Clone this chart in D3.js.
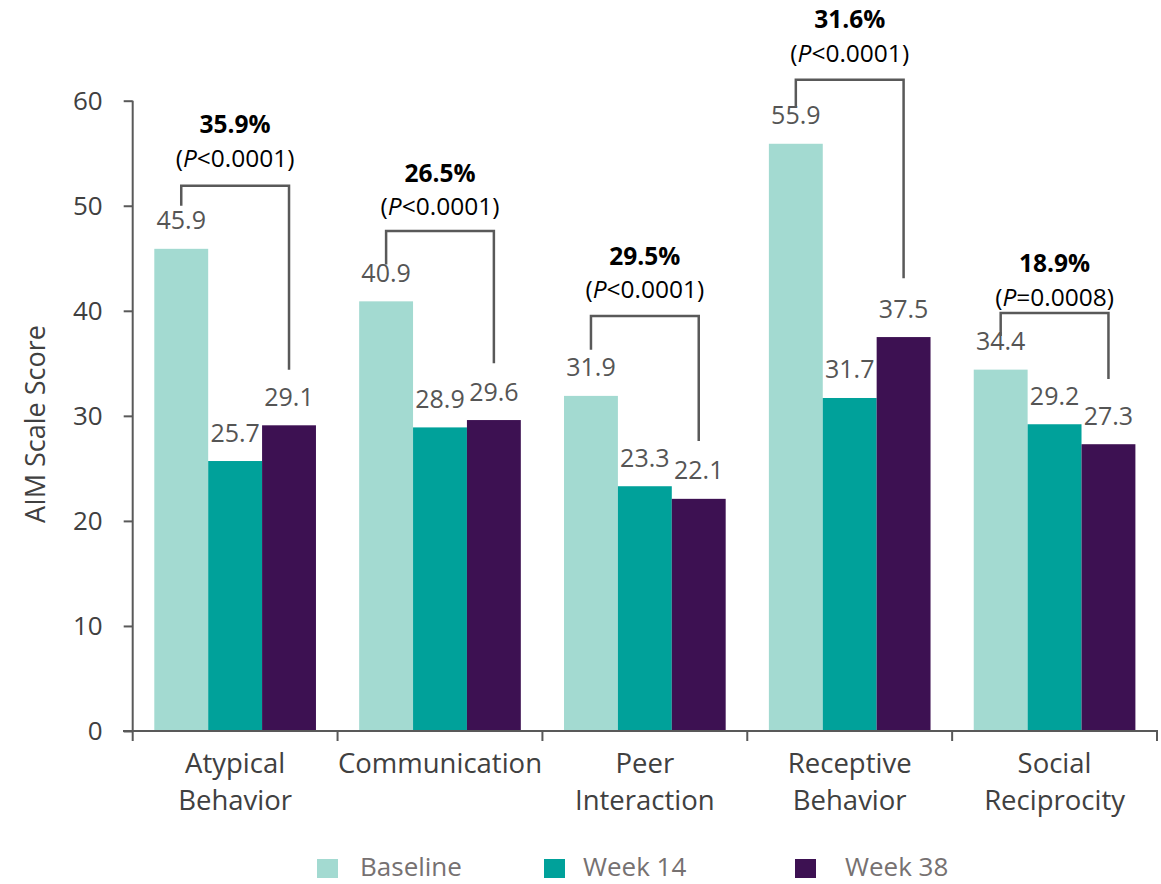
<!DOCTYPE html>
<html>
<head>
<meta charset="utf-8">
<script src="https://cdn.jsdelivr.net/npm/d3@7"></script>
<style>
  html, body { margin: 0; padding: 0; background: #fff; }
  svg { display: block; font-family: "Open Sans", sans-serif; }
</style>
</head>
<body>
<svg id="chart" width="1161" height="884"></svg>
<script>
// ---- Data ----
const categories = [["Atypical", "Behavior"], ["Communication"], ["Peer", "Interaction"], ["Receptive", "Behavior"], ["Social", "Reciprocity"]];
const seriesNames = ["Baseline", "Week 14", "Week 38"];
const baseline = [45.9, 40.9, 31.9, 55.9, 34.4];
const week14 = [25.7, 28.9, 23.3, 31.7, 29.2];
const week38 = [29.1, 29.6, 22.1, 37.5, 27.3];
const yTicks = [0, 10, 20, 30, 40, 50, 60];
const pctChange = ["35.9%", "26.5%", "29.5%", "31.6%", "18.9%"];
const pOperator = ["<", "<", "<", "<", "="];
const pValue = ["0.0001", "0.0001", "0.0001", "0.0001", "0.0008"];
// annotation bracket geometry, in score units
const bracketTop = [51.9, 47.6, 39.5, 62.0, 39.8];
const bracketLeftEnd = [50.0, 44.4, 36.3, 59.4, 37.6];
const bracketRightEnd = [34.4, 35.0, 27.6, 43.1, 33.5];
const annotTextLevel = [53.7, 49.1, 41.2, 63.7, 40.5];

(function () {
// ---- Layout ----
const colors = ["#a3dad1", "#00a19a", "#3d1152"];
const svg = d3.select("#chart");
const mLeft = 132.7, mRight = 1157, mTop = 100.7, mBottom = 731;

const series = [baseline, week14, week38];
const catIdx = d3.range(categories.length);

const x0 = d3.scaleBand().domain(catIdx).range([mLeft, mRight]).padding(0);
const x1 = d3.scaleBand().domain(d3.range(seriesNames.length))
  .range([21.6, x0.bandwidth() - 21.6]).padding(0);
const y = d3.scaleLinear().domain([0, 60]).range([mBottom, mTop]);

const axisColor = "#595959";
const textColor = "#404040";

// ---- Bars ----
const groups = svg.append("g").selectAll("g").data(catIdx).join("g")
  .attr("transform", i => `translate(${x0(i)},0)`);

groups.selectAll("rect")
  .data(i => series.map((s, k) => ({ k, v: s[i] })))
  .join("rect")
  .attr("x", d => x1(d.k))
  .attr("width", x1.bandwidth())
  .attr("y", d => y(d.v))
  .attr("height", d => y(0) - y(d.v))
  .attr("fill", d => colors[d.k]);

// ---- Data labels ----
groups.selectAll("text.val")
  .data(i => series.map((s, k) => ({ k, v: s[i] })))
  .join("text")
  .attr("class", "val")
  .attr("x", d => x1(d.k) + x1.bandwidth() / 2)
  .attr("y", d => y(d.v) - 19.5)
  .attr("text-anchor", "middle")
  .attr("font-size", 25)
  .attr("fill", "#555555")
  .text(d => d.v.toFixed(1));

// ---- Y axis ----
const yAxis = d3.axisLeft(y).tickValues(yTicks).tickSize(9).tickPadding(21);
const gy = svg.append("g").attr("transform", `translate(${mLeft},0)`).call(yAxis);
gy.select(".domain").attr("stroke", axisColor).attr("stroke-width", 2).attr("d", `M0,${mTop}V${mBottom}`);
gy.selectAll(".tick line").attr("stroke", axisColor).attr("stroke-width", 2);
gy.selectAll(".tick text").attr("font-size", 26).attr("fill", textColor)
  .attr("font-family", "Open Sans, sans-serif").attr("dy", "0.34em");

// ---- X axis ----
const gx = svg.append("g").attr("transform", `translate(0,${mBottom})`);
gx.append("line").attr("x1", mLeft - 9.7).attr("x2", mRight + 1).attr("y1", 0).attr("y2", 0)
  .attr("stroke", axisColor).attr("stroke-width", 2);
const boundaries = catIdx.map(i => x0(i)).concat([x0(catIdx.length - 1) + x0.bandwidth()]);
gx.selectAll("line.tk").data(boundaries).join("line").attr("class", "tk")
  .attr("x1", d => d).attr("x2", d => d).attr("y1", 0).attr("y2", 10)
  .attr("stroke", axisColor).attr("stroke-width", 2);

const catLabels = svg.append("g").selectAll("text").data(catIdx).join("text")
  .attr("x", i => x0(i) + x0.bandwidth() / 2)
  .attr("y", 773)
  .attr("text-anchor", "middle")
  .attr("font-size", 27.5)
  .attr("fill", textColor);
catLabels.selectAll("tspan").data(i => categories[i].map(s => ({ s, i }))).join("tspan")
  .attr("x", d => x0(d.i) + x0.bandwidth() / 2)
  .attr("dy", (d, j) => j === 0 ? 0 : 37)
  .text(d => d.s);

// ---- Y title ----
svg.append("text")
  .attr("transform", `translate(45,424) rotate(-90)`)
  .attr("text-anchor", "middle")
  .attr("font-size", 27)
  .attr("fill", textColor)
  .text("AIM Scale Score");

// ---- Annotations (brackets) ----
const ann = svg.append("g");
catIdx.forEach(i => {
  const xl = x0(i) + x1(0) + x1.bandwidth() / 2;
  const xr = x0(i) + x1(2) + x1.bandwidth() / 2;
  const yt = y(bracketTop[i]);
  ann.append("path")
    .attr("d", `M${xl},${y(bracketLeftEnd[i])}V${yt}H${xr}V${y(bracketRightEnd[i])}`)
    .attr("fill", "none")
    .attr("stroke", axisColor)
    .attr("stroke-width", 2.5);
  const cx = (xl + xr) / 2;
  const ty = y(annotTextLevel[i]);
  ann.append("text")
    .attr("x", cx).attr("y", ty - 33.5)
    .attr("text-anchor", "middle")
    .attr("font-size", 24.5)
    .attr("font-weight", "bold")
    .attr("fill", "#000")
    .text(pctChange[i]);
  const t = ann.append("text")
    .attr("x", cx).attr("y", ty)
    .attr("text-anchor", "middle")
    .attr("font-size", 24.5)
    .attr("fill", "#000");
  t.append("tspan").text("(");
  t.append("tspan").attr("font-style", "italic").text("P");
  t.append("tspan").text(pOperator[i] + pValue[i] + ")");
});

// ---- Legend ----
const legendSquareX = [317, 544, 795];
const legendTextX = [360, 583, 845];
const lg = svg.append("g");
seriesNames.forEach((name, k) => {
  lg.append("rect")
    .attr("x", legendSquareX[k]).attr("y", 859)
    .attr("width", 21).attr("height", 19)
    .attr("fill", colors[k]);
  lg.append("text")
    .attr("x", legendTextX[k]).attr("y", 876)
    .attr("font-size", 26)
    .attr("fill", "#767171")
    .text(name);
});
})();
</script>
</body>
</html>
